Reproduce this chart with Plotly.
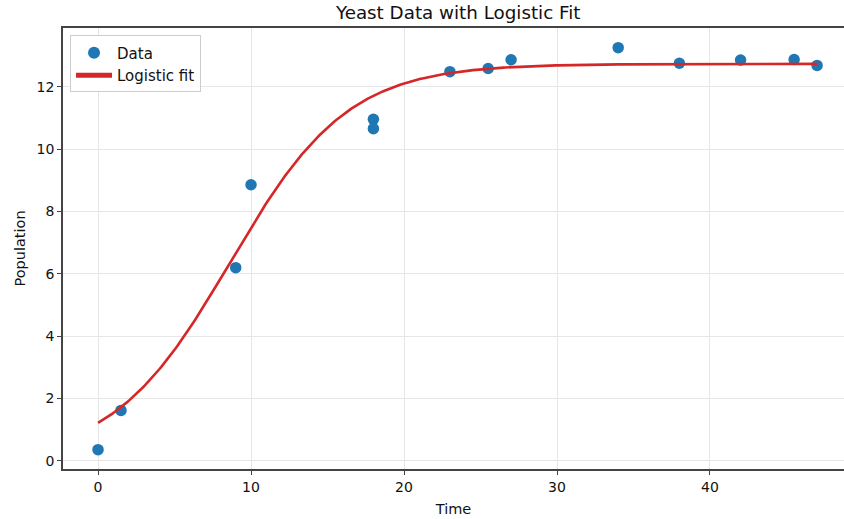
import numpy as np
import plotly.graph_objects as go

time_obs = [0, 1.5, 9, 10, 18, 18, 23, 25.5, 27, 34, 38, 42, 45.5, 47]
pop_obs = [0.36, 1.62, 6.2, 8.86, 10.96, 10.66, 12.49, 12.59, 12.87, 13.26, 12.76, 12.86, 12.88, 12.69]

# Logistic fit parameters
fit_K = 12.74
fit_P0 = 1.22
fit_r = 0.26
fit_t_start, fit_t_end = 0, 47

t_fit = np.linspace(fit_t_start, fit_t_end, 400)
p_fit = fit_K / (1 + (fit_K / fit_P0 - 1) * np.exp(-fit_r * t_fit))

x_ticks = [0, 10, 20, 30, 40]
y_ticks = [0, 2, 4, 6, 8, 10, 12]

FONT = "DejaVu Sans"
SPINE = "#444444"

W, H = 844, 519

fig = go.Figure()
fig.add_trace(go.Scatter(
    x=time_obs, y=pop_obs, mode="markers", name="Data",
    marker=dict(color="#1f77b4", size=11.5, line=dict(width=0)),
))
fig.add_trace(go.Scatter(
    x=t_fit, y=p_fit, mode="lines", name="Logistic fit",
    line=dict(color="#d62728", width=2.6),
))

fig.update_layout(
    width=W, height=H,
    margin=dict(l=63, r=0, t=28, b=50, autoexpand=False),
    paper_bgcolor="white", plot_bgcolor="white",
    font=dict(family=FONT, size=13, color="#111111"),
    title=dict(text="Yeast Data with Logistic Fit", x=0.506, xanchor="center",
               xref="paper", y=1 - 13 / H, yanchor="middle", yref="container",
               font=dict(family=FONT, size=18.3, color="#111111")),
    showlegend=True,
    legend=dict(x=0.009, y=0.983, xanchor="left", yanchor="top",
                bgcolor="rgba(255,255,255,0.9)", bordercolor="#cccccc", borderwidth=1,
                font=dict(family=FONT, size=15, color="#111111"),
                itemsizing="constant", itemwidth=36, tracegroupgap=0),
)
fig.update_xaxes(
    range=[-2.29, 48.76], tickvals=x_ticks, ticktext=[str(v) for v in x_ticks],
    showgrid=True, gridcolor="#e6e6e6", gridwidth=1, zeroline=False,
    showline=True, linecolor=SPINE, linewidth=1.5, mirror=True,
    ticks="outside", ticklen=4, tickwidth=1.2, tickcolor=SPINE,
    tickfont=dict(family=FONT, size=14, color="#111111"),
    title=dict(text="Time", font=dict(family=FONT, size=14.5, color="#111111"), standoff=10),
    automargin=False,
)
fig.update_yaxes(
    range=[-0.26, 13.89], tickvals=y_ticks, ticktext=[str(v) for v in y_ticks],
    showgrid=True, gridcolor="#e6e6e6", gridwidth=1, zeroline=False,
    showline=True, linecolor=SPINE, linewidth=1.5, mirror=False,
    ticks="outside", ticklen=4, tickwidth=1.2, tickcolor=SPINE,
    tickfont=dict(family=FONT, size=14, color="#111111"),
    title=dict(text="Population", font=dict(family=FONT, size=14.5, color="#111111"), standoff=8),
    automargin=False,
)

fig.write_html(
    "out.html",
    config={"displayModeBar": False},
    post_script="document.body.style.margin='0';document.body.style.overflow='hidden';",
)
